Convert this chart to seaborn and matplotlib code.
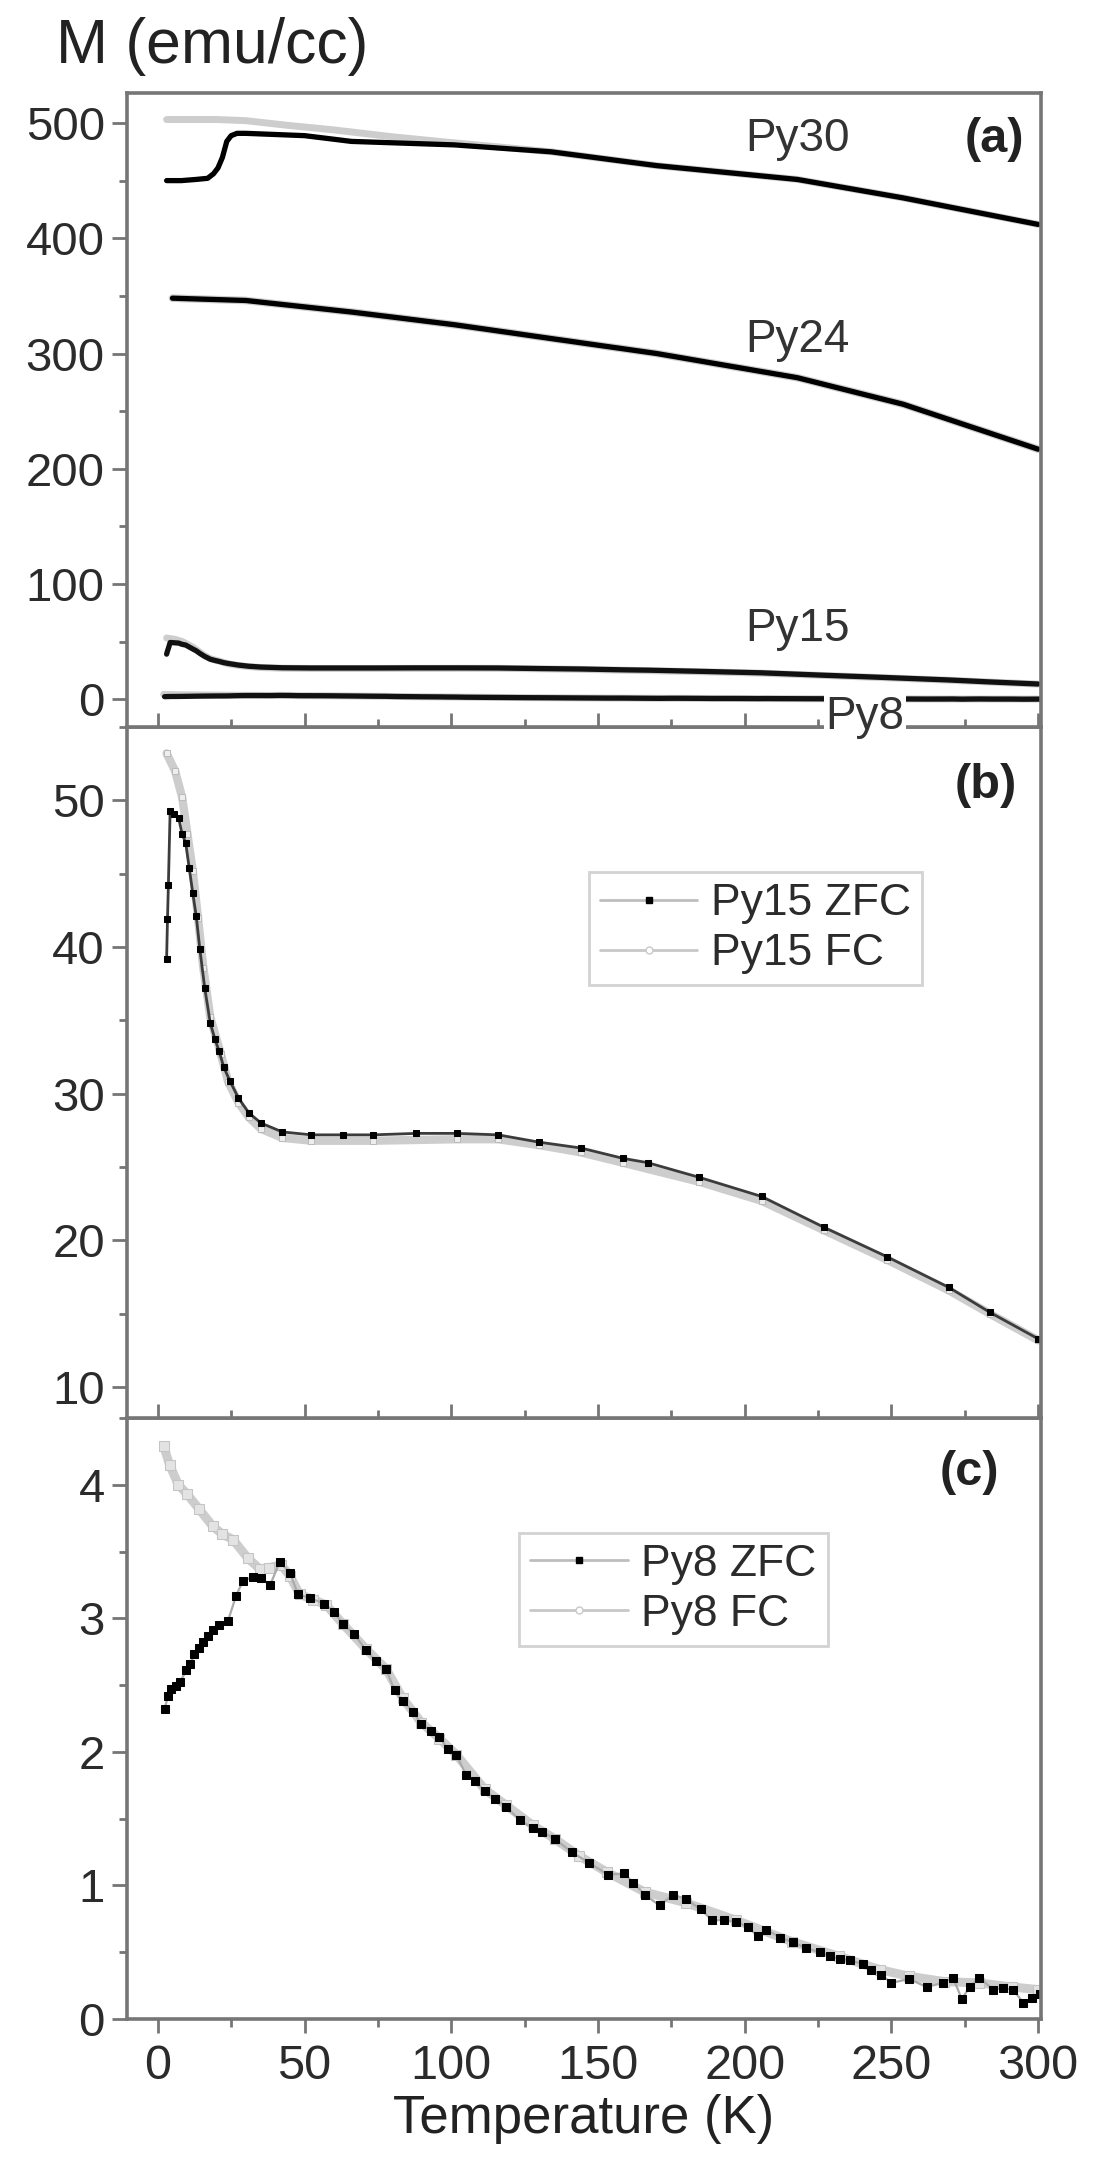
import matplotlib
matplotlib.use('Agg')
import matplotlib.pyplot as plt
from matplotlib.lines import Line2D
from matplotlib.ticker import MultipleLocator
import seaborn as sns

# ---- data ----
py30_zfc_T = [3, 8, 13, 17, 19, 20.5, 22, 23.5, 25, 27, 30, 50, 66, 101, 134, 170, 218, 254, 300]
py30_zfc_M = [450, 450, 451, 452, 456, 461, 470, 484, 489, 491, 491, 489, 484, 481, 475, 463, 451, 435, 412]
py30_fc_T = [3, 10, 20, 30, 44, 60, 80, 100, 134, 170, 218, 254, 300]
py30_fc_M = [503, 503, 503, 502, 498, 494, 488, 483, 475, 463, 451, 435, 412]

py24_T = [5, 30, 66, 101, 134, 170, 218, 254, 300]
py24_M = [348, 346, 336, 325, 313, 300, 279, 256, 217]

py15_zfc_T = [3.0, 3.3, 3.6, 4.2, 5.4, 7.1, 8.3, 9.5, 10.7, 11.9, 13.1, 14.3, 16, 17.9, 19.5, 20.9,
              22.5, 24.5, 27.5, 31, 35.2, 42.4, 52.3, 63, 73.5, 88, 101.9, 116, 130, 144.3, 158.5,
              167, 184.6, 205.8, 227, 248.4, 269.6, 283.6, 300]
py15_zfc_M = [39.2, 41.9, 44.2, 49.3, 49.1, 48.8, 47.7, 47.1, 45.4, 43.7, 42.1, 39.9, 37.2, 34.8, 33.7, 32.9,
              31.8, 30.9, 29.7, 28.7, 28.0, 27.4, 27.2, 27.2, 27.2, 27.3, 27.3, 27.2, 26.7, 26.3, 25.6,
              25.3, 24.3, 23.0, 20.9, 18.9, 16.8, 15.1, 13.3]
py15_fc_T = [3.0, 5.9, 8.3, 10.1, 11.9, 13.7, 15.5, 17.9, 21.5, 24, 27.5, 31, 35.2, 42.4, 52.3, 73.5,
             101.9, 116, 130, 144.3, 158.5, 184.6, 205.8, 227, 248.4, 269.6, 283.6, 300]
py15_fc_M = [53.2, 52.0, 50.2, 47.7, 45.2, 42.0, 38.6, 35.2, 32.7, 30.8, 29.4, 28.4, 27.6, 27.0, 26.8, 26.8,
             26.9, 26.9, 26.5, 26.0, 25.3, 24.0, 22.7, 20.7, 18.7, 16.6, 15.0, 13.2]

py8_zfc_T = [2.3, 3.5, 4.5, 6.2, 7.5, 9.7, 11, 12.5, 14, 15.3, 17, 18.7, 21, 23.9, 26.7, 29, 32.4, 35,
             38.3, 41.5, 45.1, 47.7, 52, 56.8, 60, 63, 67, 71, 74.4, 77.8, 80.7, 83.5, 87, 89.8, 93, 96,
             98.9, 101.7, 105, 108, 111.4, 115, 118.7, 123.3, 127.8, 131, 135.2, 141, 147, 153.4, 159,
             162, 166, 171, 175.6, 180, 185, 189, 193, 197, 201, 204.5, 207.4, 212, 216.5, 221, 225.6,
             229, 232.4, 236, 240.3, 243, 246.6, 250, 256, 262, 267.6, 271, 274, 276.7, 280, 284.7,
             288, 291.5, 295, 298, 300.5]
py8_zfc_M = [2.32, 2.42, 2.47, 2.49, 2.52, 2.61, 2.66, 2.73, 2.78, 2.82, 2.87, 2.91, 2.95, 2.98, 3.17,
             3.28, 3.31, 3.30, 3.25, 3.42, 3.34, 3.18, 3.15, 3.11, 3.05, 2.96, 2.88, 2.76, 2.68, 2.62,
             2.46, 2.38, 2.30, 2.21, 2.16, 2.11, 2.02, 1.98, 1.83, 1.78, 1.71, 1.65, 1.59, 1.49, 1.43,
             1.40, 1.35, 1.25, 1.17, 1.08, 1.09, 1.02, 0.93, 0.85, 0.93, 0.90, 0.82, 0.74, 0.74, 0.73,
             0.69, 0.62, 0.67, 0.61, 0.575, 0.53, 0.50, 0.47, 0.45, 0.44, 0.41, 0.37, 0.33, 0.27, 0.30,
             0.24, 0.27, 0.31, 0.15, 0.24, 0.31, 0.22, 0.23, 0.22, 0.12, 0.16, 0.19]
py8_fc_T = [2, 4, 7, 10, 14, 18.7, 22, 25.6, 30.7, 34.7, 38, 42, 45, 48.3, 53, 57.4, 63, 71, 77.8, 83.5,
            89.8, 96, 101.7, 111.4, 118.7, 127.8, 135.2, 143.7, 153, 166, 180, 197, 216, 232, 246, 256,
            268, 280, 291, 300]
py8_fc_M = [4.29, 4.15, 4.0, 3.93, 3.82, 3.69, 3.63, 3.59, 3.45, 3.37, 3.38, 3.40, 3.32, 3.18, 3.14, 3.10,
            2.96, 2.77, 2.62, 2.40, 2.22, 2.10, 1.98, 1.72, 1.60, 1.45, 1.35, 1.22, 1.10, 0.95, 0.87,
            0.74, 0.58, 0.47, 0.37, 0.32, 0.28, 0.27, 0.24, 0.22]

x_ticks = [0, 50, 100, 150, 200, 250, 300]

sns.set_style('ticks')
plt.rcParams['font.family'] = ['Liberation Sans', 'DejaVu Sans']

W, H = 1101, 2166
fig = plt.figure(figsize=(W / 100, H / 100), dpi=100)


def box(y_top, y_bot, x0=127, x1=1041):
    return [x0 / W, 1 - y_bot / H, (x1 - x0) / W, (y_bot - y_top) / H]


ax_a = fig.add_axes(box(93, 727))
ax_b = fig.add_axes(box(727, 1418))
ax_c = fig.add_axes(box(1418, 2019))
ax_a.set_zorder(3)
ax_b.set_zorder(2)
ax_c.set_zorder(1)

spine_col = '#767676'
txt_col = '#2b2b2b'
FC_COL = '#cdcdcd'

for ax, bottom in [(ax_a, False), (ax_b, False), (ax_c, True)]:
    for s in ax.spines.values():
        s.set_color(spine_col)
        s.set_linewidth(2.6)
    ax.set_xlim(-10.5, 301)
    ax.xaxis.set_major_locator(MultipleLocator(50))
    ax.xaxis.set_minor_locator(MultipleLocator(25))
    ax.tick_params(axis='y', which='major', direction='out', length=11, width=2,
                   color=spine_col, labelsize=34, labelcolor=txt_col, pad=5)
    ax.tick_params(axis='y', which='minor', direction='out', length=6, width=2, color=spine_col)
    ax.tick_params(axis='x', which='both', direction='out' if bottom else 'in',
                   labelbottom=bottom, width=2, color=spine_col, labelsize=35,
                   labelcolor=txt_col, pad=8)
    ax.tick_params(axis='x', which='major', length=10)
    ax.tick_params(axis='x', which='minor', length=6)
    ax.tick_params(top=False, right=False)
    ax.set_xlabel('')
    ax.set_ylabel('')

# ---- panel (a) ----
sns.lineplot(x=py30_fc_T, y=py30_fc_M, ax=ax_a, color=FC_COL, lw=5, sort=False, estimator=None)
sns.lineplot(x=py30_zfc_T, y=py30_zfc_M, ax=ax_a, color='black', lw=3.8, sort=False, estimator=None)
sns.lineplot(x=py24_T, y=py24_M, ax=ax_a, color=FC_COL, lw=5.5, sort=False, estimator=None)
sns.lineplot(x=py24_T, y=py24_M, ax=ax_a, color='black', lw=3.8, sort=False, estimator=None)
sns.lineplot(x=py15_fc_T, y=py15_fc_M, ax=ax_a, color=FC_COL, lw=5, sort=False, estimator=None)
sns.lineplot(x=py15_zfc_T, y=py15_zfc_M, ax=ax_a, color='#111111', lw=3.8, sort=False, estimator=None)
sns.lineplot(x=py8_fc_T, y=py8_fc_M, ax=ax_a, color=FC_COL, lw=5, sort=False, estimator=None)
sns.lineplot(x=py8_zfc_T, y=py8_zfc_M, ax=ax_a, color='#111111', lw=3.8, sort=False, estimator=None)
ax_a.set_ylim(-24, 526)
ax_a.yaxis.set_major_locator(MultipleLocator(100))
ax_a.yaxis.set_minor_locator(MultipleLocator(50))
lab_kw = dict(ha='center', va='center', fontsize=33, color='#333333')
ax_a.text(218, 486, 'Py30', **lab_kw)
ax_a.text(218, 312, 'Py24', **lab_kw)
ax_a.text(218, 61, 'Py15', **lab_kw)
ax_a.text(241, -15, 'Py8', clip_on=False, zorder=10,
          bbox=dict(facecolor='white', edgecolor='none', pad=1), **lab_kw)
ax_a.text(285, 486, '(a)', ha='center', va='center', fontsize=35, fontweight='bold', color='#222222')

# ---- panel (b) ----
sns.lineplot(x=py15_fc_T, y=py15_fc_M, ax=ax_b, color=FC_COL, lw=6, marker='s', markersize=5,
             markerfacecolor='#eeeeee', markeredgecolor='#bbbbbb', sort=False, estimator=None)
sns.lineplot(x=py15_zfc_T, y=py15_zfc_M, ax=ax_b, color='#3c3c3c', lw=2, marker='s', markersize=4,
             markerfacecolor='black', markeredgecolor='black', sort=False, estimator=None)
ax_b.set_ylim(7.9, 55)
ax_b.yaxis.set_major_locator(MultipleLocator(10))
ax_b.yaxis.set_minor_locator(MultipleLocator(5))
ax_b.text(282, 51, '(b)', ha='center', va='center', fontsize=35, fontweight='bold', color='#222222')

# ---- panel (c) ----
sns.lineplot(x=py8_fc_T, y=py8_fc_M, ax=ax_c, color=FC_COL, lw=6.5, marker='s', markersize=6.5,
             markerfacecolor='#e3e3e3', markeredgecolor='#c4c4c4', sort=False, estimator=None)
sns.lineplot(x=py8_zfc_T, y=py8_zfc_M, ax=ax_c, color='#aaaaaa', lw=1.6, marker='s', markersize=5.5,
             markerfacecolor='black', markeredgecolor='black', sort=False, estimator=None)
ax_c.set_ylim(0, 4.5)
ax_c.yaxis.set_major_locator(MultipleLocator(1))
ax_c.yaxis.set_minor_locator(MultipleLocator(0.5))
ax_c.set_xticks(x_ticks)
ax_c.text(276.5, 4.09, '(c)', ha='center', va='center', fontsize=35, fontweight='bold', color='#222222')

# ---- legends ----
def handles():
    zfc = Line2D([], [], color='#bdbdbd', lw=2, marker='s', markersize=5,
                 markerfacecolor='black', markeredgecolor='black')
    fc = Line2D([], [], color='#c8c8c8', lw=2, marker='o', markersize=5,
                markerfacecolor='white', markeredgecolor='#c8c8c8')
    return [zfc, fc]


for ax, names, anchor in [(ax_b, ['Py15 ZFC', 'Py15 FC'], (0.505, 0.79)),
                          (ax_c, ['Py8 ZFC', 'Py8 FC'], (0.429, 0.809))]:
    leg = ax.legend(handles(), names, loc='upper left', bbox_to_anchor=anchor, borderaxespad=0,
                    fontsize=32, frameon=True, fancybox=False, handlelength=2.2,
                    handletextpad=0.3, labelspacing=0.2, borderpad=0.25)
    leg.get_frame().set_edgecolor('#c8c8c8')
    leg.get_frame().set_linewidth(2)
    for t in leg.get_texts():
        t.set_color(txt_col)

fig.text(56 / W, 1 - 46 / H, 'M (emu/cc)', ha='left', va='center', fontsize=45, color='#222222')
fig.text(584 / W, 1 - 2119 / H, 'Temperature (K)', ha='center', va='center', fontsize=38, color='#222222')

fig.savefig('out.png', dpi=100, facecolor='white')
